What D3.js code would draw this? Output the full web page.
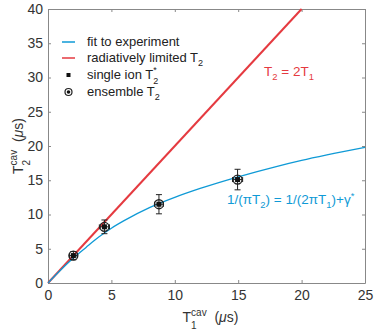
<!DOCTYPE html>
<html>
<head>
<meta charset="utf-8">
<script src="https://cdn.jsdelivr.net/npm/d3@7"></script>
<style>
  body { margin: 0; background: #fff; }
  text { font-family: "Liberation Sans", Arial, sans-serif; }
</style>
</head>
<body>
<div id="chart"></div>
<script>
// data
const xTicks = [0, 5, 10, 15, 20, 25];
const yTicks = [0, 5, 10, 15, 20, 25, 30, 35, 40];
const pointT1 = [2.0, 4.45, 8.75, 14.95];
const pointT2 = [4.0, 8.2, 11.5, 15.1];
const errT2 = [0.6, 1.0, 1.4, 1.5];
const errT1 = [0.3, 0.4, 0.35, 0.4];
const fitT1 = [0, 1, 2, 3, 4, 5, 6, 8, 10, 12, 15, 18, 20, 22, 25];
const fitT2 = [0, 1.9, 3.65, 5.2, 6.7, 8.0, 9.1, 11.0, 12.5, 13.8, 15.5, 17.0, 17.9, 18.7, 19.8];
const radT1 = [0, 20];
const radT2 = [0, 40];

const W = 374, H = 335;
const m = { left: 48, right: 9, top: 9, bottom: 52 };
const blue = '#0f9ad6', red = '#e53a40', axisCol = '#888', txt = '#333';

const svg = d3.select('#chart').append('svg').attr('width', W).attr('height', H);

const x = d3.scaleLinear().domain([0, 25]).range([m.left, W - m.right]);
const y = d3.scaleLinear().domain([0, 40]).range([H - m.bottom, m.top]);

// axes (ticks inward, box around)
const axB = svg.append('g').attr('transform', `translate(0,${y(0)})`)
  .call(d3.axisBottom(x).tickValues(xTicks).tickSizeInner(-3).tickSizeOuter(0).tickPadding(7));
const axT = svg.append('g').attr('transform', `translate(0,${y(40)})`)
  .call(d3.axisTop(x).tickValues(xTicks).tickSizeInner(-3).tickSizeOuter(0).tickFormat(''));
const axL = svg.append('g').attr('transform', `translate(${x(0)},0)`)
  .call(d3.axisLeft(y).tickValues(yTicks).tickSizeInner(-3).tickSizeOuter(0).tickPadding(5));
const axR = svg.append('g').attr('transform', `translate(${x(25)},0)`)
  .call(d3.axisRight(y).tickValues(yTicks).tickSizeInner(-3).tickSizeOuter(0).tickFormat(''));
[axB, axT, axL, axR].forEach(a => {
  a.selectAll('path, line').attr('stroke', axisCol);
  a.selectAll('text').attr('fill', txt).style('font-size', '14px');
});

const line = d3.line().x(d => x(d[0])).y(d => y(d[1]));

// radiatively limited line
svg.append('path')
  .attr('d', line(radT1.map((v, i) => [v, radT2[i]])))
  .attr('fill', 'none').attr('stroke', red).attr('stroke-width', 2);

// fit curve
svg.append('path')
  .attr('d', line.curve(d3.curveMonotoneX)(fitT1.map((v, i) => [v, fitT2[i]])))
  .attr('fill', 'none').attr('stroke', blue).attr('stroke-width', 1.3);

// error bars + markers
const pts = svg.append('g');
pointT1.forEach((t1, i) => {
  const px = x(t1), py = y(pointT2[i]);
  const g = pts.append('g').attr('stroke', '#222').attr('stroke-width', 1);
  g.append('line').attr('x1', px).attr('x2', px).attr('y1', y(pointT2[i] - errT2[i])).attr('y2', y(pointT2[i] + errT2[i]));
  [pointT2[i] - errT2[i], pointT2[i] + errT2[i]].forEach(v =>
    g.append('line').attr('x1', px - 3).attr('x2', px + 3).attr('y1', y(v)).attr('y2', y(v)));
  g.append('line').attr('x1', x(t1 - errT1[i])).attr('x2', x(t1 + errT1[i])).attr('y1', py).attr('y2', py);
  [t1 - errT1[i], t1 + errT1[i]].forEach(v =>
    g.append('line').attr('x1', x(v)).attr('x2', x(v)).attr('y1', py - 2.5).attr('y2', py + 2.5));
  pts.append('circle').attr('cx', px).attr('cy', py).attr('r', 4.5)
    .attr('fill', 'none').attr('stroke', '#222').attr('stroke-width', 1.3);
  pts.append('rect').attr('x', px - 2.5).attr('y', py - 2.5).attr('width', 5).attr('height', 5).attr('fill', '#111');
});

// text with inline sub/sup runs
function addText(g, xx, yy, parts, fill, size) {
  const t = g.append('text').attr('x', xx).attr('y', yy).attr('fill', fill).style('font-size', size + 'px');
  parts.forEach(p => {
    const s = t.append('tspan').text(p[0]);
    if (p[1] === 'sub') s.attr('dy', 4).style('font-size', (size * 0.7) + 'px');
    if (p[1] === 'sup') s.attr('dy', -5).style('font-size', (size * 0.7) + 'px');
    if (p[2]) s.attr('dy', p[2]);
  });
  return t;
}

// base letter with stacked subscript and superscript, then tail text
function stacked(g, xx, yy, base, sub, sup, tail, fill, size, small, subOff) {
  const grp = g.append('g').attr('fill', fill);
  const b = grp.append('text').attr('x', xx).attr('y', yy).style('font-size', size + 'px').text(base);
  const bw = b.node().getComputedTextLength();
  const s1 = grp.append('text').attr('x', xx + bw).attr('y', yy + (subOff || size * 0.35)).style('font-size', small + 'px').text(sub);
  const s2 = grp.append('text').attr('x', xx + bw).attr('y', yy - size * 0.45).style('font-size', small + 'px').text(sup);
  const sw = Math.max(s1.node().getComputedTextLength(), s2.node().getComputedTextLength());
  const tl = grp.append('text').attr('x', xx + bw + sw).attr('y', yy).style('font-size', size + 'px');
  tail.forEach(p => {
    const s = tl.append('tspan').text(p[0]);
    if (p[1]) s.style('font-style', 'italic');
  });
  const total = bw + sw + tl.node().getComputedTextLength();
  return { grp, total };
}

// legend
const lg = svg.append('g').attr('fill', '#222');
const lx = 62, ly = [42, 58, 75, 92];
lg.append('line').attr('x1', lx).attr('x2', lx + 13).attr('y1', ly[0]).attr('y2', ly[0]).attr('stroke', blue).attr('stroke-width', 1.5);
lg.append('line').attr('x1', lx).attr('x2', lx + 13).attr('y1', ly[1]).attr('y2', ly[1]).attr('stroke', red).attr('stroke-width', 1.5);
lg.append('rect').attr('x', lx + 4.5).attr('y', ly[2] - 2).attr('width', 4).attr('height', 4).attr('fill', '#111');
lg.append('circle').attr('cx', lx + 6.5).attr('cy', ly[3]).attr('r', 3.5).attr('fill', 'none').attr('stroke', '#222').attr('stroke-width', 1.2);
lg.append('circle').attr('cx', lx + 6.5).attr('cy', ly[3]).attr('r', 1.8).attr('fill', '#111');

const tx = 87, fs = 13;
addText(lg, tx, ly[0] + 4, [['fit to experiment']], '#222', fs);
addText(lg, tx, ly[1] + 4, [['radiatively limited T'], ['2', 'sub']], '#222', fs);
stacked(lg, tx, ly[2] + 4, 'single ion T', '2', '*', [], '#222', fs, 9);
addText(lg, tx, ly[3] + 4, [['ensemble T'], ['2', 'sub']], '#222', fs);

// annotations
addText(svg, 264, 76, [['T'], ['2', 'sub'], ['\u00a0= 2T', null, -4], ['1', 'sub']], red, 13.5);
addText(svg, 227, 204, [['1/(\u03c0T'], ['2', 'sub'], [') = 1/(2\u03c0T', null, -4], ['1', 'sub'], [')+\u03b3', null, -4], ['*', 'sup']], blue, 13.5);

// axis labels
const unit = [['\u00a0\u00a0('], ['\u03bc', true], ['s)']];
const xlab = stacked(svg, 0, 322, 'T', '1', 'cav', unit, txt, 14, 10, 6.5);
xlab.grp.attr('transform', `translate(${(x(0) + x(25)) / 2 - xlab.total / 2 + 4},0)`);

const ylab = stacked(svg, 0, 0, 'T', '2', 'cav', unit, txt, 14, 10, 6.5);
ylab.grp.attr('transform', `translate(23,${(y(0) + y(40)) / 2 + ylab.total / 2}) rotate(-90)`);
</script>
</body>
</html>
